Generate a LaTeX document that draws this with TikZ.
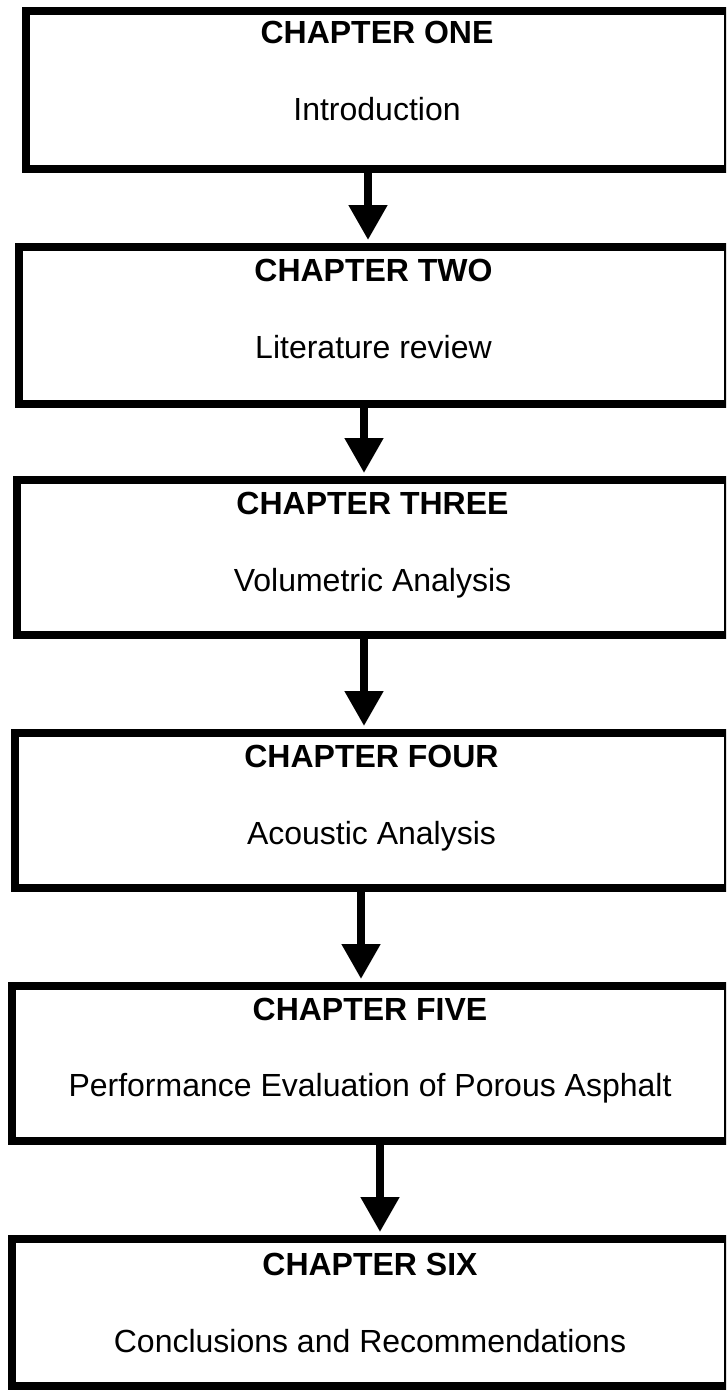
\documentclass[tikz,border=0pt]{standalone}
\usepackage{fontspec}
\setmainfont{Liberation Sans}
\usetikzlibrary{arrows.meta}
\tikzset{
  chapbox/.style={draw=black, line width=8pt, rectangle, inner sep=0pt, minimum width=702pt},
  chaptitle/.style={anchor=base, font=\fontsize{32}{38}\selectfont\bfseries, inner sep=0pt},
  chapsub/.style={anchor=base, font=\fontsize{32}{38}\selectfont, inner sep=0pt},
  flow/.style={line width=8pt, -{Triangle[length=35pt,width=37pt]}, shorten >=3pt}
}
\begin{document}
\begin{tikzpicture}[x=1pt, y=-1pt]
\useasboundingbox (0,0) rectangle (726,1391);
\clip (0,0) rectangle (726,1391);
% boxes
\node[chapbox, minimum height=158pt] (one) at (377, 90) {};
\node[chapbox, minimum height=157pt, minimum width=709pt] (two) at (373.5, 325.5) {};
\node[chapbox, minimum height=155pt, minimum width=711pt] (three) at (372.5, 557.5) {};
\node[chapbox, minimum height=155pt, minimum width=713pt] (four) at (371.5, 810.5) {};
\node[chapbox, minimum height=155pt, minimum width=716pt] (five) at (370, 1063.5) {};
\node[chapbox, minimum height=147pt, minimum width=716pt] (six) at (370, 1312.5) {};
% texts
\node[chaptitle] (onetitle) at ([yshift=-37pt]one.north) {CHAPTER ONE};
\node[chapsub] (onesub) at ([yshift=-114pt]one.north) {Introduction};
\node[chaptitle] (twotitle) at ([yshift=-38pt]two.north) {CHAPTER TWO};
\node[chapsub] (twosub) at ([yshift=-115pt]two.north) {Literature review};
\node[chaptitle] (threetitle) at ([yshift=-38pt]three.north) {CHAPTER THREE};
\node[chapsub] (threesub) at ([yshift=-115pt]three.north) {Volumetric Analysis};
\node[chaptitle] (fourtitle) at ([yshift=-38pt]four.north) {CHAPTER FOUR};
\node[chapsub] (foursub) at ([yshift=-115pt]four.north) {Acoustic Analysis};
\node[chaptitle] (fivetitle) at ([yshift=-38pt]five.north) {CHAPTER FIVE};
\node[chapsub] (fivesub) at ([yshift=-114pt]five.north) {Performance Evaluation of Porous Asphalt};
\node[chaptitle] (sixtitle) at ([yshift=-40pt]six.north) {CHAPTER SIX};
\node[chapsub] (sixsub) at ([yshift=-117pt]six.north) {Conclusions and Recommendations};
% arrows
\draw[flow] ([xshift=-9pt]one.south) -- ([xshift=-9pt]one.south |- two.north);
\draw[flow] ([xshift=-9.5pt]two.south) -- ([xshift=-9.5pt]two.south |- three.north);
\draw[flow] ([xshift=-8.5pt]three.south) -- ([xshift=-8.5pt]three.south |- four.north);
\draw[flow] ([xshift=-10.5pt]four.south) -- ([xshift=-10.5pt]four.south |- five.north);
\draw[flow] ([xshift=10pt]five.south) -- ([xshift=10pt]five.south |- six.north);
\end{tikzpicture}
\end{document}
